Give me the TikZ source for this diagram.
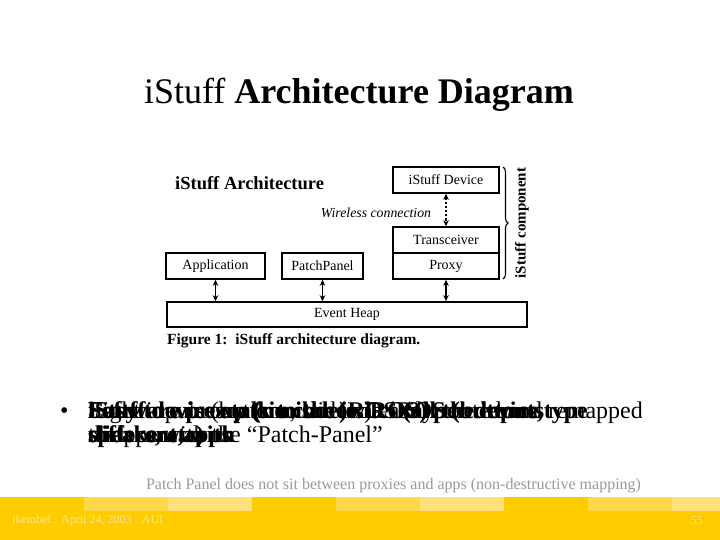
\documentclass[tikz,border=0pt]{standalone}
\usepackage{fontspec}
\setmainfont{Liberation Serif}
\usetikzlibrary{arrows.meta,decorations.pathreplacing}
\definecolor{band}{HTML}{FFCC00}
\definecolor{bandA}{HTML}{FFD84A}
\definecolor{bandB}{HTML}{FFE07A}
\definecolor{foottext}{HTML}{FFE68A}
\definecolor{notegray}{HTML}{9A9A9A}
\begin{document}
\begin{tikzpicture}[x=1pt,y=-1pt,
  box/.style={draw,line width=1.6pt,inner sep=0pt,font=\fontsize{14}{16}\selectfont},
  dbl/.style={{Stealth[length=6pt,width=5.5pt]}-{Stealth[length=6pt,width=5.5pt]},line width=1.8pt},
  wire/.style={{Stealth[length=6pt,width=5.5pt]}-{Stealth[length=6pt,width=5.5pt]},line width=2.2pt,dotted},
  bul/.style={anchor=base west,inner sep=0pt,font=\fontsize{24}{26}\selectfont}]
\useasboundingbox (0,0) rectangle (720,540);
\fill[white] (0,0) rectangle (720,540);
% title
\node[font=\fontsize{36}{40}\selectfont] (title) at (359,95) {iStuff \textbf{Architecture Diagram}};
% figure
\node[anchor=west,inner sep=0pt,font=\bfseries\fontsize{18.5}{20}\selectfont] (figtitle) at (175,183) {iStuff Architecture};
\node[box,minimum width=106pt,minimum height=26pt] (dev) at (446,180) {iStuff Device};
\node[box,minimum width=106pt,minimum height=26pt] (trans) at (446,240) {Transceiver};
\node[box,minimum width=106pt,minimum height=26pt] (proxy) at (446,266) {Proxy};
\node[box,minimum width=99pt,minimum height=26pt] (app) at (215.5,266) {Application};
\node[box,minimum width=81pt,minimum height=26pt] (patch) at (322.5,266) {PatchPanel};
\node[box,minimum width=360pt,minimum height=25pt] (heap) at (347,314.5) {Event Heap};
\node[inner sep=0pt,font=\itshape\fontsize{13.8}{15}\selectfont] (wl) at (376,213) {Wireless connection};
\draw[wire] (dev.south) -- (trans.north);
\draw[dbl] (app.south) -- (app.south |- heap.north);
\draw[dbl] (patch.south) -- (patch.south |- heap.north);
\draw[dbl] (proxy.south) -- (proxy.south |- heap.north);
\coordinate (bt) at (503,167);
\coordinate (bb) at (503,279);
\draw[line width=1.1pt,decorate,decoration={brace,amplitude=5pt}] (bt) -- (bb);
\node[rotate=90,inner sep=0pt,font=\bfseries\fontsize{15}{17}\selectfont] (comp) at (522,223) {iStuff component};
\node[anchor=west,inner sep=0pt,font=\bfseries\fontsize{15.5}{18}\selectfont] (cap) at (167,341) {Figure 1:\ \ iStuff architecture diagram.};
% bullet (overlaid texts)
\node[bul] (dot) at (60,418) {•};
\node[bul] (a1) at (88,418) {Eight inputs (buttons, sliders) easily routed and remapped};
\node[bul] (a2) at (88,442) {to apps with the “Patch-Panel”};
\node[bul] (b1) at (88,418) {\textbf{Software proxy (similar to iROS) per device type}};
\node[bul] (b2) at (88,442) {\textbf{sliders, etc)}};
\node[bul] (c1) at (88,418) {\textbf{Easy to wire up (no code) via iROS (buttons,}};
\node[bul] (c2) at (88,442) {\textbf{speakers, with}};
\node[bul] (d1) at (88,418) {\textbf{iStuff devices talk to the iROS (all the inputs}};
\node[bul] (d2) at (88,442) {\textbf{different apps}};
% note
\node[font=\fontsize{16}{18}\selectfont,text=notegray] (note) at (393.5,486) {Patch Panel does not sit between proxies and apps (non-destructive mapping)};
% footer
\fill[band] (0,497) rectangle (720,540);
\fill[bandA] (84,497) rectangle (168,511);
\fill[bandB] (168,497) rectangle (252,511);
\fill[bandA] (336,497) rectangle (420,511);
\fill[bandB] (420,497) rectangle (504,511);
\fill[bandA] (588,497) rectangle (672,511);
\fill[bandB] (672,497) rectangle (720,511);
\node[anchor=west,inner sep=0pt,text=foottext,font=\fontsize{12}{14}\selectfont] (foot) at (12,521) {jkembel : April 24, 2003 : AUI};
\node[anchor=east,inner sep=0pt,text=foottext,font=\fontsize{12}{14}\selectfont] (page) at (703,521) {55};
\end{tikzpicture}
\end{document}
